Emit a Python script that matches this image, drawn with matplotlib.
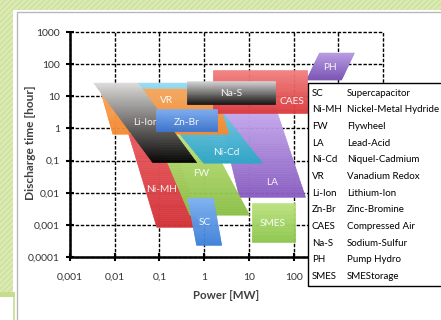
import numpy as np
import matplotlib
matplotlib.use("Agg")
import matplotlib.pyplot as plt
from matplotlib.patches import Polygon, Rectangle
from matplotlib.colors import to_rgb
from matplotlib.ticker import FixedLocator, NullLocator

plt.rcParams['font.family'] = ['Lato', 'DejaVu Sans']

# ---------------- data ----------------
# drawing order back -> front
tech = ["PH", "SMES", "LA", "Ni-MH", "FW", "Ni-Cd", "VR", "CAES", "Na-S", "Li-Ion", "Zn-Br", "SC"]
# discharge time [h] at top and bottom edge of each region
t_top = [222, 0.0047, 4.3, 1.27, 0.62, 25.8, 16.8, 65, 29.8, 25.8, 4.0, 0.0068]
t_bot = [32, 0.00029, 0.0072, 0.00084, 0.002, 0.083, 0.66, 3.0, 5.7, 0.086, 0.82, 0.00023]
# power [MW] range at top edge and at bottom edge
p_top_lo = [380, 11.6, 2.0, 0.0178, 0.083, 0.033, 0.0047, 1.56, 0.41, 0.0034, 0.083, 0.43]
p_top_hi = [2300, 105, 40, 0.162, 1.14, 0.757, 1.73, 195, 37.7, 0.033, 1.91, 1.6]
p_bot_lo = [195, 11.6, 6.2, 0.0875, 0.48, 0.98, 0.0091, 1.56, 0.41, 0.071, 0.083, 0.68]
p_bot_hi = [1180, 105, 185, 0.80, 10.4, 20.3, 3.54, 195, 37.7, 0.68, 1.91, 2.47]
# label positions (power, time)
label_p = [637, 34, 32.3, 0.113, 0.88, 3.19, 0.146, 90, 4.13, 0.05, 0.41, 1.03]
label_t = [81, 0.00112, 0.0212, 0.0129, 0.0405, 0.183, 7.6, 7.1, 12.6, 1.57, 1.57, 0.0012]

color_top = ["#b99ee3", "#bde27f", "#c8adf0", "#ea6165", "#bfe07e", "#9adbf0", "#f9a95e",
             "#f28080", "#d8d8d8", "#dcdcdc", "#7eaef2", "#84b5f3"]
color_bot = ["#7d56b6", "#8cc64c", "#8a5fc0", "#d3363b", "#8cc049", "#2fa6c7", "#f38a32",
             "#db3a3d", "#161616", "#050505", "#3e76cf", "#3a7ed8"]

x_ticks = [1e-3, 1e-2, 1e-1, 1, 10, 100, 1e3, 1e4]
x_ticklabels = ["0,001", "0,01", "0,1", "1", "10", "100", "", ""]
y_ticks = [1e-4, 1e-3, 1e-2, 1e-1, 1, 10, 100, 1000]
y_ticklabels = ["0,0001", "0,001", "0,01", "0,1", "1", "10", "100", "1000"]

legend_abbr = ["SC", "Ni-MH", "FW", "LA", "Ni-Cd", "VR", "Li-Ion", "Zn-Br", "CAES", "Na-S", "PH", "SMES"]
legend_name = ["Supercapacitor", "Nickel-Metal Hydride", "Flywheel", "Lead-Acid", "Niquel-Cadmium",
               "Vanadium Redox", "Lithium-Ion", "Zinc-Bromine", "Compressed Air", "Sodium-Sulfur",
               "Pump Hydro", "SMEStorage"]

# ---------------- figure ----------------
W, H = 441, 320
fig = plt.figure(figsize=(W / 100, H / 100), dpi=100)
fig.patch.set_facecolor("white")

def fx(px):
    return px / W

def fy(py):
    return 1 - py / H

plt.rcParams['hatch.linewidth'] = 0.6
# decorative green page background
fig.add_artist(Rectangle((0, fy(10)), 1, 10 / H, transform=fig.transFigure,
                         facecolor="#dbe9b3", edgecolor="#c6dc90", hatch="//////", lw=0, zorder=-2))
fig.add_artist(Rectangle((0, fy(292)), fx(13), 292 / H, transform=fig.transFigure,
                         facecolor="#dbe9b3", edgecolor="#c6dc90", hatch="//////", lw=0, zorder=-2))
fig.add_artist(Rectangle((0, fy(297)), fx(15), 5 / H, transform=fig.transFigure,
                         facecolor="#c5dd8c", edgecolor="none", lw=0, zorder=-2))
fig.add_artist(Rectangle((fx(13), 0), fx(2), fy(297), transform=fig.transFigure,
                         facecolor="#cfe2a0", edgecolor="none", lw=0, zorder=-2))
# white panel
fig.add_artist(Rectangle((fx(16.5), -0.05), 1.1, fy(12) + 0.05, transform=fig.transFigure,
                         facecolor="white", edgecolor="#b8b8b8", lw=1.0, zorder=-1))

ax = fig.add_axes([fx(70), fy(257), (383 - 70) / W, (257 - 32) / H])
ax.set_zorder(1)
ax.set_xscale("log")
ax.set_yscale("log")
ax.patch.set_alpha(0)


def grad_region(ax, tt, tb, ptl, pth, pbl, pbh, c_top, c_bot, z, n=48):
    """Fill a trapezoid (straight edges in log-log space) with a vertical gradient."""
    lt, lb = np.log10(tt), np.log10(tb)
    ltl, lth, lbl, lbh = np.log10([ptl, pth, pbl, pbh])
    ct, cb = np.array(to_rgb(c_top)), np.array(to_rgb(c_bot))
    fr = np.linspace(0, 1, n + 1)
    for k in range(n):
        f0, f1 = fr[k], fr[k + 1]
        y0, y1 = lt + (lb - lt) * f0, lt + (lb - lt) * f1
        xl0, xh0 = ltl + (lbl - ltl) * f0, lth + (lbh - lth) * f0
        xl1, xh1 = ltl + (lbl - ltl) * f1, lth + (lbh - lth) * f1
        col = ct + (cb - ct) * (0.5 * (f0 + f1))
        verts = 10 ** np.array([[xl0, y0], [xh0, y0], [xh1, y1], [xl1, y1]])
        ax.add_patch(Polygon(verts, closed=True, facecolor=col, edgecolor=col,
                             lw=0.4, zorder=z))


for i, name in enumerate(tech):
    z = 2 + i * 0.1
    grad_region(ax, t_top[i], t_bot[i], p_top_lo[i], p_top_hi[i], p_bot_lo[i], p_bot_hi[i],
                color_top[i], color_bot[i], z)
    lz = z + 0.05 if name == "Li-Ion" else 10
    ax.text(label_p[i], label_t[i], name, ha="center", va="center", color="white",
            fontsize=7.3, zorder=lz, alpha=0.92)

ax.set_xlim(1e-3, 1e4)
ax.set_ylim(1e-4, 1e3)

ax.xaxis.set_major_locator(FixedLocator(x_ticks))
ax.yaxis.set_major_locator(FixedLocator(y_ticks))
ax.xaxis.set_minor_locator(NullLocator())
ax.yaxis.set_minor_locator(NullLocator())
ax.set_xticklabels(x_ticklabels)
ax.set_yticklabels(y_ticklabels)

ax.grid(True, which="major", color="black", linestyle=(0, (2.5, 1.2)), linewidth=1.0, zorder=1)
ax.set_axisbelow(True)
for l in ax.get_xgridlines() + ax.get_ygridlines():
    l.set_clip_on(False)

for s in ["top", "right"]:
    ax.spines[s].set_visible(False)
for s in ["left", "bottom"]:
    ax.spines[s].set_linewidth(1.8)
    ax.spines[s].set_color("black")

ax.tick_params(axis="both", direction="inout", length=6, width=1.5, color="black",
               labelsize=7.5, labelcolor="#333333")
ax.tick_params(axis="y", pad=4.2)
ax.tick_params(axis="x", pad=8.5)

ax.set_xlabel("Power [MW]", fontweight="bold", fontsize=8.3, color="#404040")
ax.xaxis.set_label_coords(0.498, -0.148)
ax.set_ylabel("Discharge time [hour]", fontweight="bold", fontsize=8.6, color="#404040")
ax.yaxis.set_label_coords(-0.108, 0.507)

# legend table
fig.add_artist(Rectangle((fx(308), fy(286)), 0.4, (286 - 83) / H, transform=fig.transFigure,
                         facecolor="white", edgecolor="black", lw=1.0, zorder=10))
for i, (a, n) in enumerate(zip(legend_abbr, legend_name)):
    yy = fy(93.3 + 16.67 * i)
    fig.text(fx(312), yy, a, ha="left", va="center", fontsize=7.0, color="black", zorder=11)
    fig.text(fx(347), yy, n, ha="left", va="center", fontsize=7.0, color="black", zorder=11)

fig.savefig("out.png", dpi=100, facecolor=fig.get_facecolor())
